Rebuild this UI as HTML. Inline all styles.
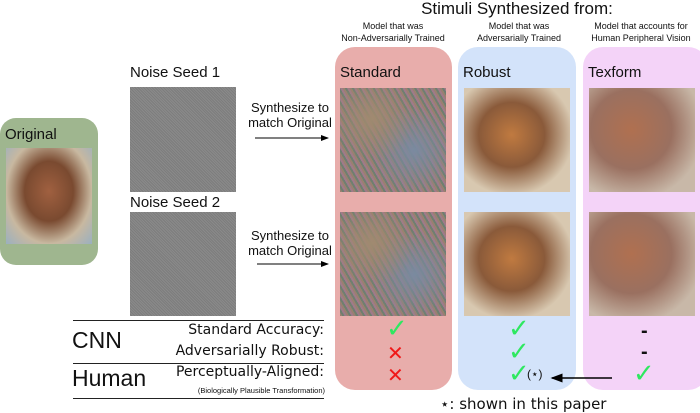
<!DOCTYPE html><html><head><style>
body{margin:0;width:700px;height:413px;background:#fff;position:relative;overflow:hidden;font-family:"Liberation Sans",sans-serif;color:#111}
.a{position:absolute}
.col{position:absolute;top:47px;height:343px;border-radius:20px}
.t{font-size:15px}
.s{font-size:9px;text-align:center;line-height:12px}
.chk{position:absolute;color:#2ee860;font-size:26px;font-family:"DejaVu Sans",sans-serif}
.x{position:absolute;color:#f01818;font-size:20px;font-family:"DejaVu Sans",sans-serif}
.r{position:absolute;right:376px;font-size:14px;white-space:nowrap;font-family:"DejaVu Sans",sans-serif}
.noise{background:repeating-linear-gradient(45deg,#8a8a8a 0 1px,#7d7d7d 1px 2px)}
.std{background:radial-gradient(circle at 30% 30%,#a08a70,transparent 40%),radial-gradient(circle at 70% 60%,#7a8aa0,transparent 45%),repeating-linear-gradient(60deg,#9a8070 0 2px,#6f7f70 2px 4px,#a07a8a 4px 6px)}
.rob{background:radial-gradient(ellipse at 45% 45%,#c07a40,#8a5a3a 40%,#d8c8b0 75%)}
.tex{background:radial-gradient(ellipse at 40% 40%,#b07050,#9a7060 45%,#c8b8a8 80%)}
</style></head><body>
<div class="a" style="left:0;top:118px;width:98px;height:147px;background:#9fb68f;border-radius:16px"></div>
<div class="a t" style="left:5px;top:126px">Original</div>
<div class="a" style="left:6px;top:148px;width:86px;height:96px;background:radial-gradient(ellipse at 50% 45%,#a06040,#7a4a30 40%,#c8b8a0 70%,#9ab0c0)"></div>
<div class="a t" style="left:130px;top:64px">Noise Seed 1</div>
<div class="a noise" style="left:130px;top:87px;width:106px;height:105px"></div>
<div class="a t" style="left:130px;top:194px">Noise Seed 2</div>
<div class="a noise" style="left:130px;top:212px;width:106px;height:104px"></div>
<div class="a" style="left:242px;top:100px;font-size:13px;line-height:15px;text-align:center;width:96px">Synthesize to<br>match Original</div>
<div class="a" style="left:242px;top:228px;font-size:13px;line-height:15px;text-align:center;width:96px">Synthesize to<br>match Original</div>
<svg class="a" style="left:0;top:0" width="700" height="413"><defs><marker id="m" markerWidth="8" markerHeight="8" refX="7" refY="4" orient="auto"><path d="M0,1L8,4L0,7z" fill="#000"/></marker></defs>
<line x1="255" y1="138" x2="328" y2="138" stroke="#000" marker-end="url(#m)"/>
<line x1="257" y1="264" x2="328" y2="264" stroke="#000" marker-end="url(#m)"/>
</svg>
<div class="a" style="left:330px;top:-1px;width:374px;text-align:center;font-size:17px">Stimuli Synthesized from:</div>
<div class="a s" style="left:330px;top:20px;width:126px">Model that was<br>Non-Adversarially Trained</div>
<div class="a s" style="left:456px;top:20px;width:126px">Model that was<br>Adversarially Trained</div>
<div class="a s" style="left:582px;top:20px;width:118px">Model that accounts for<br>Human Peripheral Vision</div>
<div class="col" style="left:335px;width:117px;background:#e8adab"></div>
<div class="col" style="left:458px;width:118px;background:#d3e3fa"></div>
<div class="col" style="left:583px;width:125px;background:#f4d3f8"></div>
<div class="a t" style="left:340px;top:64px">Standard</div>
<div class="a t" style="left:463px;top:64px">Robust</div>
<div class="a t" style="left:588px;top:64px">Texform</div>
<div class="a std" style="left:340px;top:88px;width:106px;height:104px"></div>
<div class="a std" style="left:340px;top:212px;width:106px;height:104px"></div>
<div class="a rob" style="left:464px;top:88px;width:106px;height:104px"></div>
<div class="a rob" style="left:464px;top:212px;width:106px;height:104px"></div>
<div class="a tex" style="left:589px;top:88px;width:106px;height:104px"></div>
<div class="a tex" style="left:589px;top:212px;width:106px;height:104px"></div>
<div class="a" style="left:73px;top:320px;width:251px;border-top:1.5px solid #222"></div>
<div class="a" style="left:73px;top:363px;width:251px;border-top:1.5px solid #222"></div>
<div class="a" style="left:73px;top:398px;width:251px;border-top:1.5px solid #222"></div>
<div class="a" style="left:72px;top:327px;font-size:23px">CNN</div>
<div class="a" style="left:72px;top:365px;font-size:23px">Human</div>
<div class="r" style="top:322px">Standard Accuracy:</div>
<div class="r" style="top:343px">Adversarially Robust:</div>
<div class="r" style="top:364px">Perceptually-Aligned:</div>
<div class="a" style="left:150px;top:386px;width:175px;text-align:right;font-size:7.5px;white-space:nowrap">(Biologically Plausible Transformation)</div>
<div class="chk" style="left:386px;top:314px">✓</div>
<div class="x" style="left:387px;top:341px">✕</div>
<div class="x" style="left:387px;top:363px">✕</div>
<div class="chk" style="left:508px;top:314px">✓</div>
<div class="chk" style="left:508px;top:337px">✓</div>
<div class="chk" style="left:508px;top:359px">✓</div>
<div class="a" style="left:527px;top:367px;font-size:12px">(⋆)</div>
<svg class="a" style="left:0;top:0" width="700" height="413"><defs><marker id="m2" markerWidth="8" markerHeight="8" refX="7" refY="4" orient="auto"><path d="M0,1L8,4L0,7z" fill="#000"/></marker></defs><line x1="612" y1="378" x2="552" y2="378" stroke="#000" stroke-width="1.5" marker-end="url(#m2)"/></svg>
<div class="a" style="left:641px;top:320px;font-size:20px;font-weight:bold">-</div>
<div class="a" style="left:641px;top:341px;font-size:20px;font-weight:bold">-</div>
<div class="chk" style="left:633px;top:359px">✓</div>
<div class="a" style="left:440px;top:395px;font-size:15px;font-family:'DejaVu Sans',sans-serif">⋆: shown in this paper</div>
</body></html>
